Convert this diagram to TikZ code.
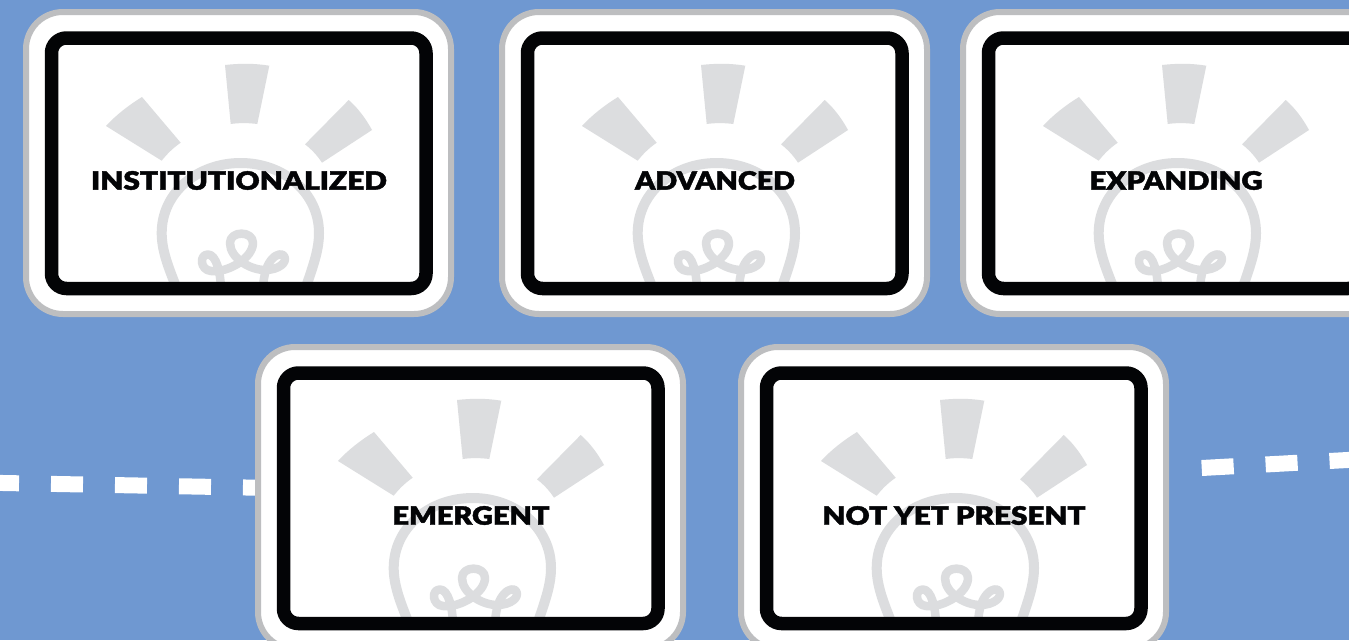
\documentclass[tikz,border=0pt]{standalone}
\usepackage{fontspec}
\setmainfont{Lato}[UprightFont=* Black,BoldFont=* Black,FakeBold=1.6]
\definecolor{bgblue}{HTML}{6F98D1}
\definecolor{rimgray}{HTML}{BDBEC0}
\definecolor{bulbgray}{HTML}{DCDDDF}
\definecolor{inkblack}{HTML}{030406}
\tikzset{
  x=1pt,y=-1pt,
  rim/.style={draw=rimgray,line width=6pt,fill=white,rounded corners=37pt},
  frame/.style={draw=inkblack,line width=13.5pt,rounded corners=15pt},
  ray/.style={fill=bulbgray},
  glass/.style={draw=bulbgray,line width=10pt},
  filament/.style={draw=bulbgray,line width=8.5pt,line cap=round,line join=round},
  cardlabel/.style={inner sep=0pt,text=inkblack,font=\fontsize{24}{24}\selectfont,anchor=center},
  dashline/.style={draw=white,line width=16pt,dash pattern=on 32pt off 32pt}
}
\newcommand{\bulbcard}[5]{% name, dx, dy, label width, text
  \begin{scope}[shift={(#2,#3)}]
    \draw[rim] (26,12) rectangle (451,314);
    \begin{scope}
      \clip (52,38) rectangle (426,288);
      \fill[ray] (225,65) .. controls (240,63.3) and (255,63.3) .. (269.3,65.7) -- (257.3,124) .. controls (248,122.8) and (239,122.8) .. (230.7,124) -- cycle;
      \fill[ray] (106,126) .. controls (116,115) and (129,105) .. (142,97) -- (180.7,142.7) .. controls (173,148) and (167,154) .. (161.7,160.7) -- cycle;
      \fill[ray] (348.7,100) .. controls (358,108) and (366,119) .. (372,130) -- (322,162.7) .. controls (317,155) and (311,149) .. (305,144.3) -- cycle;
      \draw[glass] (175,284) .. controls (168,266) and (161.7,250) .. (161.7,233) .. controls (161.7,193) and (197,163) .. (240.7,163) .. controls (284,163) and (319,193) .. (319,233) .. controls (319,250) and (313,266) .. (307,284);
      \draw[filament] (221,292) .. controls (221,272) and (216,254.5) .. (208,254.5) .. controls (199,254.5) and (200,270) .. (211,271) .. controls (228,273) and (253,258) .. (253,243) .. controls (253,230.5) and (230,230.5) .. (230,243) .. controls (230,258) and (250,270) .. (265,270) .. controls (279,270) and (288,262) .. (284,256) .. controls (281,251) and (263,256) .. (263,292);
    \end{scope}
    \draw[frame] (51.5,38) rectangle (426,288.5);
    \node[cardlabel] (#1) at (239,180.5) {\resizebox{#4pt}{18.6pt}{#5}};
  \end{scope}
}
\begin{document}
\begin{tikzpicture}
\useasboundingbox (0,0) rectangle (1349,640);
\clip (0,0) rectangle (1349,640);
\fill[bgblue] (0,0) rectangle (1349,640);
\coordinate (leftstart) at (-13,482.7);
\coordinate (leftend) at (300,488.5);
\coordinate (rightstart) at (1201.7,468);
\coordinate (rightend) at (1393,457.5);
\draw[dashline] (leftstart) -- (leftend);
\draw[dashline] (rightstart) -- (rightend);
\bulbcard{inst}{0}{0}{296}{INSTITUTIONALIZED}
\bulbcard{adv}{476}{0}{160}{ADVANCED}
\bulbcard{expd}{937}{0}{173}{EXPANDING}
\bulbcard{emrg}{232}{335}{157}{EMERGENT}
\bulbcard{nyp}{715}{335}{263}{NOT YET PRESENT}
\end{tikzpicture}
\end{document}
